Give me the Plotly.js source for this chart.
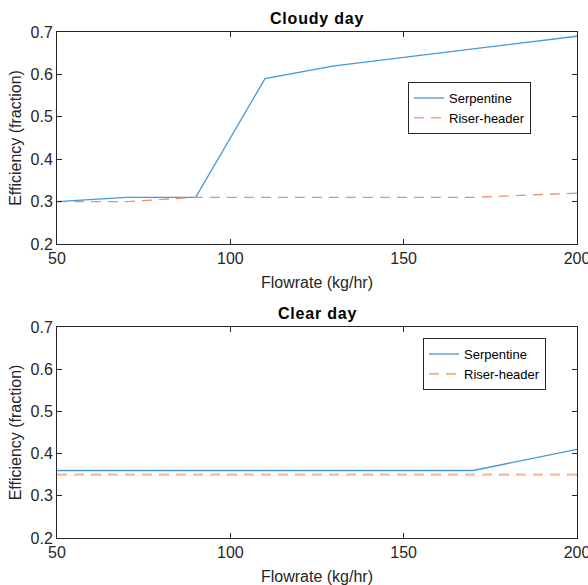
<!DOCTYPE html>
<html>
<head>
<meta charset="utf-8">
<script src="https://cdn.plot.ly/plotly-3.0.1.min.js"></script>
<style>html,body{margin:0;padding:0;background:#fff}#chart{width:588px;height:585px}
.annotation-text{letter-spacing:0.8px}</style>
</head>
<body>
<div id="chart"></div>
<script>
const flowrate = [50, 70, 90, 110, 130, 150, 170, 200];
const cloudySerpentine = [0.30, 0.31, 0.31, 0.59, 0.62, 0.64, 0.66, 0.69];
const cloudyRiser = [0.30, 0.30, 0.31, 0.31, 0.31, 0.31, 0.31, 0.32];
const clearSerpentine = [0.36, 0.36, 0.36, 0.36, 0.36, 0.36, 0.36, 0.41];
const clearRiser = [0.35, 0.35, 0.35, 0.35, 0.35, 0.35, 0.35, 0.35];
const xTicks = [50, 100, 150, 200];
const yTicks = [0.2, 0.3, 0.4, 0.5, 0.6, 0.7];
const titles = ['Cloudy day', 'Clear day'];
const xTitle = 'Flowrate (kg/hr)';
const yTitle = 'Efficiency (fraction)';

const blue = '#4498dc';
const axisColor = '#262626';
const fam = 'Liberation Sans, Arial, sans-serif';
const font = {family: fam, size: 16, color: axisColor};

const traces = [
  {x: flowrate, y: cloudySerpentine, name: 'Serpentine', mode: 'lines', line: {color: blue, width: 1.3}, xaxis: 'x', yaxis: 'y', legend: 'legend'},
  {x: flowrate, y: cloudyRiser, name: 'Riser-header', mode: 'lines', line: {color: '#ea9170', width: 1.3, dash: '10px,7px'}, xaxis: 'x', yaxis: 'y', legend: 'legend'},
  {x: flowrate, y: clearSerpentine, name: 'Serpentine', mode: 'lines', line: {color: blue, width: 1.3}, xaxis: 'x2', yaxis: 'y2', legend: 'legend2'},
  {x: flowrate, y: clearRiser, name: 'Riser-header', mode: 'lines', line: {color: '#f5b99c', width: 2.2, dash: '10px,7px'}, xaxis: 'x2', yaxis: 'y2', legend: 'legend2'}
];

function xa(anchor, dom) {
  return {domain: dom, anchor: anchor, range: [50, 200], tickvals: xTicks, ticktext: xTicks.map(String),
    ticks: 'inside', ticklen: 5, tickcolor: axisColor, showline: true, linecolor: axisColor, linewidth: 1,
    mirror: 'ticks', showgrid: false, zeroline: false, tickfont: font, ticklabeloverflow: 'allow',
    title: {text: xTitle, font: font, standoff: 10}, automargin: false};
}
function ya(anchor, dom) {
  return {domain: dom, anchor: anchor, range: [0.2, 0.7], tickvals: yTicks, ticktext: yTicks.map(v => v.toFixed(1)),
    ticks: 'inside', ticklen: 5, tickcolor: axisColor, showline: true, linecolor: axisColor, linewidth: 1,
    mirror: 'ticks', showgrid: false, zeroline: false, tickfont: font, ticklabeloverflow: 'allow',
    title: {text: yTitle, font: font, standoff: 4}, automargin: false};
}

const xd = [57/588, 577/588];
const legFont = {family: fam, size: 13, color: '#000'};
const layout = {
  width: 588, height: 585,
  margin: {l: 0, r: 0, t: 0, b: 0},
  paper_bgcolor: '#fff', plot_bgcolor: '#fff',
  font: font,
  showlegend: true,
  xaxis: xa('y', xd),
  yaxis: ya('x', [1 - 244/585, 1 - 32/585]),
  xaxis2: xa('y2', xd),
  yaxis2: ya('x2', [1 - 538/585, 1 - 327/585]),
  legend: {x: 408/588, y: 1 - 82/585, xanchor: 'left', yanchor: 'top', bgcolor: '#fff', bordercolor: axisColor, borderwidth: 1,
    font: legFont, tracegroupgap: 0},
  legend2: {x: 423/588, y: 1 - 338/585, xanchor: 'left', yanchor: 'top', bgcolor: '#fff', bordercolor: axisColor, borderwidth: 1,
    font: legFont, tracegroupgap: 0},
  annotations: [
    {text: '<b>' + titles[0] + '</b>', xref: 'paper', yref: 'paper', x: 317/588, y: 1 - 19/585, xanchor: 'center', yanchor: 'middle', showarrow: false, font: {family: fam, size: 16, color: '#000'}},
    {text: '<b>' + titles[1] + '</b>', xref: 'paper', yref: 'paper', x: 317/588, y: 1 - 313/585, xanchor: 'center', yanchor: 'middle', showarrow: false, font: {family: fam, size: 16, color: '#000'}}
  ]
};

Plotly.newPlot('chart', traces, layout, {displayModeBar: false, staticPlot: true});
</script>
</body>
</html>
